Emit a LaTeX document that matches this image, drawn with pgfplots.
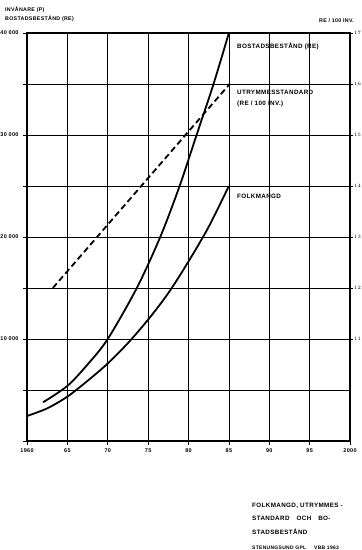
\documentclass[border=0pt]{standalone}
\usepackage{fontspec}
\setmainfont{Liberation Sans}[LetterSpace=6]
\usepackage{pgfplots}
\pgfplotsset{compat=1.18}
\begin{document}
\begin{tikzpicture}[x=1bp,y=1bp]
\begin{axis}[
  name=ax, at={(0,0)}, anchor=south west,
  scale only axis, width=323bp, height=408bp,
  xmin=1960, xmax=2000, ymin=0, ymax=40000,
  xtick={1960,1965,...,2000},
  xticklabels={1960,65,70,75,80,85,90,95,2000},
  ytick={0,5000,...,40000},
  yticklabels={,,10 000,,20 000,,30 000,,40 000},
  scaled y ticks=false,
  xtick pos=bottom, ytick pos=left,
  grid=major, grid style={black, line width=0.75bp},
  axis line style={black, line width=1.1bp},
  tick style={black, line width=0.75bp},
  tick align=outside, major tick length=4bp,
  ticklabel style={font=\bfseries\fontsize{5.5}{6}\selectfont},
  yticklabel style={xshift=-1bp},
]
\addplot[black, line width=1.8bp, smooth] coordinates {
  (1960,2450) (1962.5,3200) (1965,4350) (1967.5,5900) (1970,7600)
  (1972.5,9600) (1975,11900) (1977.5,14500) (1980,17600) (1982.5,21000) (1985,25000)
};
\addplot[black, line width=1.8bp, smooth] coordinates {
  (1962,3800) (1965,5400) (1967.5,7500) (1970,10000) (1973.6,15000) (1976.5,20000)
  (1978.9,25000) (1981.0,30000) (1983.1,35000) (1985,40000)
};
\end{axis}
\begin{axis}[
  at={(0,0)}, anchor=south west,
  scale only axis, width=323bp, height=408bp,
  xmin=1960, xmax=2000, ymin=9, ymax=17,
  axis x line=none, axis y line*=right,
  ytick={11,...,17}, ytick pos=right,
  axis line style={black, line width=1.1bp},
  tick style={black, line width=0.75bp},
  tick align=outside, major tick length=3bp,
  ticklabel style={font=\bfseries\fontsize{5.5}{6}\selectfont},
  yticklabel style={inner sep=0.5bp, xshift=0.5bp},
]
\addplot[black, line width=1.8bp, dash pattern=on 6bp off 3.5bp] coordinates {
  (1963.2,12) (1985.1,16)
};
\end{axis}
% texts (1bp = 1px of reference; origin at axis lower left = px (27,441))
\begin{scope}[every node/.style={inner sep=0pt, anchor=base west}, font=\bfseries]
\node[font=\bfseries\fontsize{5.3}{6}\selectfont] at (-22,429) {INVÅNARE (P)};
\node[font=\bfseries\fontsize{5.3}{6}\selectfont] at (-22,420) {BOSTADSBESTÅND (RE)};
\node[font=\bfseries\fontsize{5.3}{6}\selectfont] at (292,418) {RE / 100 INV.};
\node[font=\bfseries\fontsize{6.3}{7}\selectfont] at (210,392) {BOSTADSBESTÅND (RE)};
\node[font=\bfseries\fontsize{6.3}{7}\selectfont] at (210,346) {UTRYMMESSTANDARD};
\node[font=\bfseries\fontsize{6.3}{7}\selectfont] at (210,335) {(RE / 100 INV.)};
\node[font=\bfseries\fontsize{6.3}{7}\selectfont] at (210,242) {FOLKMANGD};
\node[font=\bfseries\fontsize{6.3}{7}\selectfont] at (225,-66) {FOLKMANGD, UTRYMMES -};
\node[font=\bfseries\fontsize{6.3}{7}\selectfont] at (225,-79) {STANDARD\hspace{7bp}OCH\hspace{7bp}BO-};
\node[font=\bfseries\fontsize{6.3}{7}\selectfont] at (225,-93) {STADSBESTÅND};
\node[font=\bfseries\fontsize{5}{6}\selectfont] at (225,-108) {STENUNGSUND GPL\hspace{8bp}VBB 1963};
\end{scope}
\pgfresetboundingbox
\path[use as bounding box] (-27,-109) rectangle (334,441);
\end{tikzpicture}
\end{document}
